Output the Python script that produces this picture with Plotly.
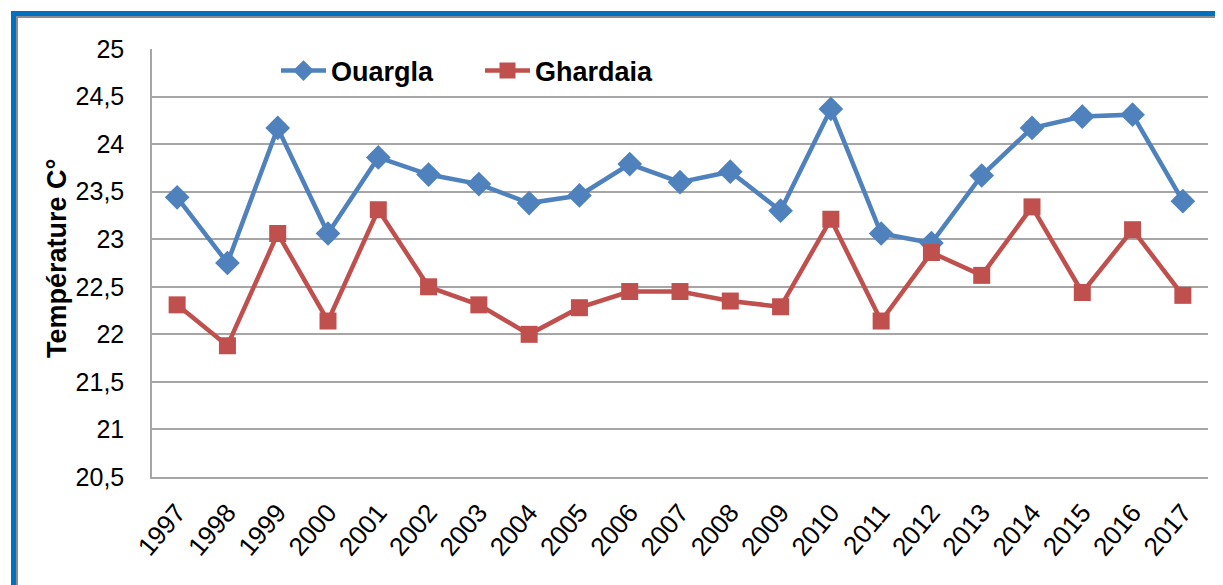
import plotly.graph_objects as go

years = [str(y) for y in range(1997, 2018)]
ouargla = [23.44, 22.75, 24.17, 23.06, 23.86, 23.68, 23.58, 23.38, 23.46, 23.79, 23.60,
           23.71, 23.30, 24.37, 23.06, 22.96, 23.67, 24.17, 24.29, 24.31, 23.40]
ghardaia = [22.31, 21.88, 23.06, 22.14, 23.31, 22.50, 22.31, 22.00, 22.28, 22.45, 22.45,
            22.35, 22.29, 23.21, 22.14, 22.86, 22.62, 23.34, 22.44, 23.10, 22.41]
ytick_vals = [20.5, 21, 21.5, 22, 22.5, 23, 23.5, 24, 24.5, 25]
ytick_text = ["20,5", "21", "21,5", "22", "22,5", "23", "23,5", "24", "24,5", "25"]

OFF = 8  # page body margin
W, H = 1223 - OFF, 585 - OFF
L, R, T, B = 152 - OFF, 1208 - OFF, 49 - OFF, 477 - OFF


def px(x):
    return (x - OFF - L) / (R - L)


def py(y):
    return (B - (y - OFF)) / (B - T)


fig = go.Figure()
fig.add_trace(go.Scatter(
    x=years, y=ouargla, name="Ouargla", mode="lines+markers",
    line=dict(color="#4F81BD", width=4.5),
    marker=dict(symbol="diamond", size=19, color="#4F81BD"),
))
fig.add_trace(go.Scatter(
    x=years, y=ghardaia, name="Ghardaia", mode="lines+markers",
    line=dict(color="#C0504D", width=4.5),
    marker=dict(symbol="square", size=17, color="#C0504D"),
))

fig.update_layout(
    width=W, height=H,
    margin=dict(l=L, r=W - R, t=T, b=H - B),
    paper_bgcolor="white", plot_bgcolor="white",
    font=dict(family="Liberation Sans, Arial, sans-serif", color="black"),
    showlegend=True,
    legend=dict(
        orientation="h", x=px(276), y=py(71), xanchor="left", yanchor="middle",
        font=dict(size=27, family="Liberation Sans, Arial, sans-serif", weight="bold"),
        entrywidth=144, entrywidthmode="pixels", itemwidth=45,
        bgcolor="rgba(0,0,0,0)",
    ),
    xaxis=dict(
        type="category", tickangle=-50, showgrid=False, range=[-0.5, 20.5],
        showline=True, linecolor="#A6A6A6", linewidth=1.5,
        tickfont=dict(size=26), ticks="", ticklabelstandoff=8,
    ),
    yaxis=dict(
        range=[20.5, 25], tickvals=ytick_vals, ticktext=ytick_text,
        showgrid=True, gridcolor="#A6A6A6", gridwidth=1.5,
        showline=True, linecolor="#A6A6A6", linewidth=1.5,
        tickfont=dict(size=25), ticks="", ticklabelstandoff=21,
        zeroline=False,
    ),
    annotations=[
        dict(text="<b>Température C°</b>", textangle=-90, xref="paper", yref="paper",
             x=px(57), y=py(259), xanchor="center", yanchor="middle", showarrow=False,
             font=dict(size=27)),
    ],
    shapes=[
        dict(type="rect", xref="paper", yref="paper",
             x0=px(17), x1=px(1260), y0=py(17), y1=py(640),
             line=dict(color="#8C8C8C", width=2), layer="below"),
        dict(type="rect", xref="paper", yref="paper",
             x0=px(13.5), x1=px(1260), y0=py(13.5), y1=py(640),
             line=dict(color="#0070C0", width=5), layer="below"),
    ],
)

fig.write_html("out.html")
